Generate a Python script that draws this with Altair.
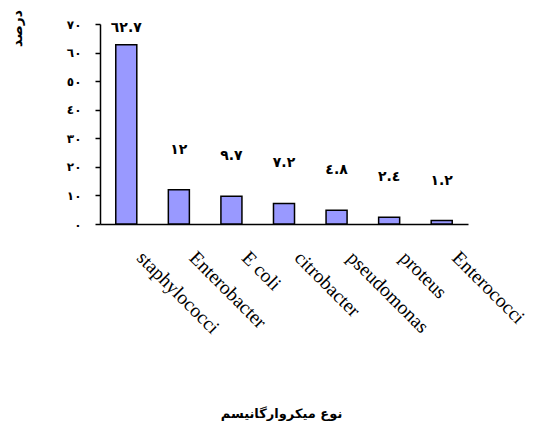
import altair as alt
import pandas as pd

categories = ["staphylococci", "Enterobacter", "E coli", "citrobacter",
              "pseudomonas", "proteus", "Enterococci"]
values = [62.7, 12, 9.7, 7.2, 4.8, 2.4, 1.2]
value_labels = ["٦٢.٧", "١٢", "٩.٧", "٧.٢", "٤.٨", "٢.٤", "١.٢"]
y_tick_labels = ["٠", "١٠", "٢٠", "٣٠", "٤٠", "٥٠", "٦٠", "٧٠"]

df = pd.DataFrame({"cat": categories, "value": values, "label": value_labels})

tick_expr = "[" + ",".join("'%s'" % t for t in y_tick_labels) + "][round(datum.value/10)]"

x_enc = alt.X("cat:N", sort=categories,
              scale=alt.Scale(paddingInner=0.6, paddingOuter=0.3),
              axis=alt.Axis(title="نوع ميكروارگانيسم", labelAngle=45, labelAlign="left",
                            labelBaseline="top", labelPadding=24, labelOffset=20,
                            labelFont="Liberation Serif",
                            labelFontSize=19.5, labelColor="black", ticks=False,
                            domainColor="black", domainWidth=1.5, labelOverlap=False,
                            titleFont="DejaVu Sans", titleFontSize=13, titleFontWeight="bold",
                            titleColor="black", titleX=181, titleY=189,
                            titleBaseline="middle", titleAlign="center", labelLimit=300))
y_enc = alt.Y("value:Q", scale=alt.Scale(domain=[0, 70], nice=False),
              axis=alt.Axis(title="درصد", values=[0, 10, 20, 30, 40, 50, 60, 70],
                            labelExpr=tick_expr, grid=False, tickSize=5, tickColor="black",
                            tickWidth=1.5, domainColor="black", domainWidth=1.5,
                            labelPadding=14, labelFont="DejaVu Sans", labelFontSize=12,
                            labelFontWeight="bold", labelColor="black", labelOverlap=False,
                            titleAngle=270, titleX=-83, titleY=4, titleAlign="center",
                            titleBaseline="middle", titleFont="DejaVu Sans",
                            titleFontSize=14, titleFontWeight="bold", titleColor="black"))

base = alt.Chart(df).encode(x=x_enc, y=y_enc)

bars = base.mark_bar(color="#9999FF", stroke="black", strokeWidth=1.5)

text_style = dict(font="DejaVu Sans", fontSize=14, fontWeight="bold", color="black",
                  baseline="middle", align="center")
labels_hi = base.transform_filter("datum.value > 50").mark_text(
    dy=-17, **text_style).encode(text="label:N")
labels_lo = base.transform_filter("datum.value <= 50").mark_text(
    dy=-40, **text_style).encode(text="label:N")

chart = alt.layer(bars, labels_hi, labels_lo).properties(
    width=368, height=200,
    background="white",
    autosize=alt.AutoSizeParams(type="none"),
    padding={"left": 92, "top": 16, "right": 62, "bottom": 201},
).configure_view(strokeWidth=0, stroke=None)

chart.save("out.html", embed_options={"renderer": "svg", "actions": False})
